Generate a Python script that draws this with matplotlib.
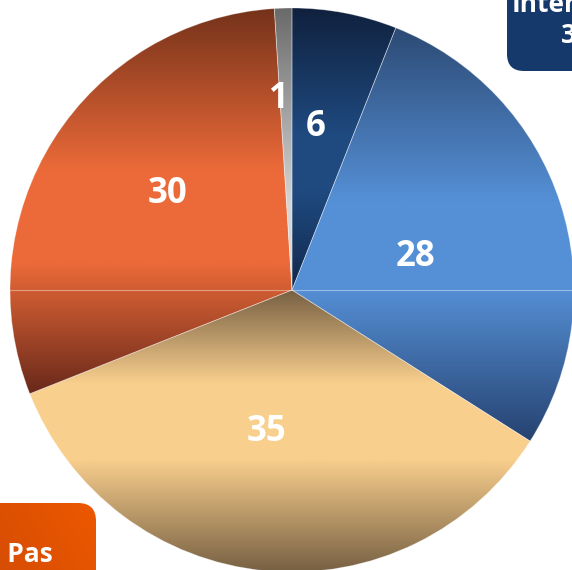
import numpy as np
import matplotlib
matplotlib.use("Agg")
import matplotlib.pyplot as plt
from matplotlib.patches import FancyBboxPatch
from matplotlib.colors import to_rgb

# donnees (sens horaire depuis le haut)
valeurs = [6, 28, 35, 30, 1]
etiquettes = ["6", "28", "35", "30", "1"]

# degrade vertical par part : haut, milieu, bas
couleurs_haut = ["#10213e", "#2c4a74", "#776043", "#74321a", "#6a6a6a"]
couleurs_milieu = ["#1f4a80", "#5590d6", "#f9cf8d", "#ec6a39", "#d6d6d6"]
couleurs_bas = ["#11284b", "#264270", "#776043", "#69291a", "#dcdcdc"]
bande_debut = [0.45, 0.42, 0.33, 0.42, 0.7]
bande_fin = [0.65, 0.63, 0.6, 0.66, 1.0]
# placement des etiquettes : fraction du rayon, decalage angulaire (deg)
dist_etiquettes = [0.595, 0.458, 0.50, 0.564, 0.69]
decal_angle = [2.6, -1.8, -4.8, -6.1, 2.0]

W, H = 572, 570
centre = (292, 280)
rayon = 282
police = "Open Sans"


def degrade(haut, milieu, bas, a, b, n=256):
    stops = [0.0, a, b, 1.0]
    cols = np.array([to_rgb(haut), to_rgb(milieu), to_rgb(milieu), to_rgb(bas)])
    t = np.linspace(0, 1, n)
    rgb = np.stack([np.interp(t, stops, cols[:, k]) for k in range(3)], axis=-1)
    return rgb[:, None, :]  # ligne 0 = haut (origin='upper')


fig = plt.figure(figsize=(W / 100, H / 100), dpi=100)
ax = fig.add_axes([0, 0, 1, 1])

wedges, _ = ax.pie(valeurs, startangle=90, counterclock=False, center=centre,
                   radius=rayon, frame=True,
                   wedgeprops=dict(linewidth=0.6, edgecolor=(1, 1, 1, 0.35)))

for i, w in enumerate(wedges):
    ext = w.get_path().get_extents()
    w.set_facecolor("none")
    img = ax.imshow(degrade(couleurs_haut[i], couleurs_milieu[i], couleurs_bas[i],
                            bande_debut[i], bande_fin[i]),
                    extent=[ext.x0, ext.x1, ext.y0, ext.y1], origin="upper",
                    aspect="auto", zorder=0.5, interpolation="bilinear")
    img.set_clip_path(w)

    mid = np.deg2rad((w.theta1 + w.theta2) / 2 + decal_angle[i])
    d = dist_etiquettes[i] * rayon
    ax.text(centre[0] + d * np.cos(mid), centre[1] + d * np.sin(mid) - 12, etiquettes[i],
            ha="center", va="baseline", color="white", fontsize=25,
            fontweight="bold", family=police, zorder=3)

# fine ligne claire au niveau du centre
ax.plot([centre[0] - rayon, centre[0] + rayon], [centre[1], centre[1]],
        color="white", alpha=0.4, linewidth=0.8, zorder=2)

# etiquettes legendes (coupees par le bord)
boite1 = FancyBboxPatch((507, 499), 160, 120, boxstyle="round,pad=0,rounding_size=17",
                        facecolor="#16396c", edgecolor="none", zorder=4)
ax.add_patch(boite1)
ax.text(512, 558, "Intermédiaire", ha="left", va="baseline", color="white",
        fontsize=19, fontweight="bold", family=police, zorder=5)
ax.text(561, 527, "33%", ha="left", va="baseline", color="white",
        fontsize=19, fontweight="bold", family=police, zorder=5)

boite2 = FancyBboxPatch((-80, -60), 176, 127, boxstyle="round,pad=0,rounding_size=18",
                        facecolor="none", edgecolor="none", zorder=4)
ax.add_patch(boite2)
gx = np.linspace(0, 1, 64)
grad = np.array([[np.interp(x * 0.7 + (1 - y) * 0.3, [0, 1],
                            [to_rgb("#c44406")[k], to_rgb("#ec5800")[k]])
                  for k in range(3)] for y in np.linspace(0, 1, 32) for x in gx])
grad = grad.reshape(32, 64, 3)
img = ax.imshow(grad, extent=[-80, 96, -60, 67], origin="upper", aspect="auto", zorder=4)
img.set_clip_path(boite2)
ax.text(53, 8, "Ne Savoir Pas", ha="right", va="baseline", color="white",
        fontsize=19, fontweight="bold", family=police, zorder=5)

ax.set_xlim(0, W)
ax.set_ylim(0, H)
ax.set_aspect("auto")
ax.axis("off")
fig.savefig("out.png", dpi=100, facecolor="white")
